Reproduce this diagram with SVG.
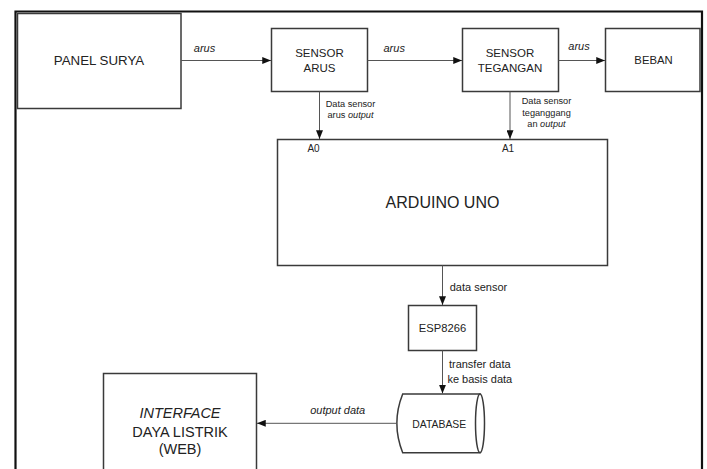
<svg xmlns="http://www.w3.org/2000/svg" width="707" height="469" viewBox="0 0 707 469">
<defs>
<marker id="ah" viewBox="0 0 10 8" refX="10" refY="4" markerWidth="9" markerHeight="7" markerUnits="userSpaceOnUse" orient="auto">
<path d="M0,0 L10,4 L0,8 z" fill="#111"/>
</marker>
<style>
.box{fill:#fff;stroke:#3a3a3a;stroke-width:1.5}
.frame{fill:none;stroke:#111;stroke-width:2.2}
.con{fill:none;stroke:#555;stroke-width:1}
text{font-family:"Liberation Sans",Arial,sans-serif;fill:#222;text-anchor:middle}
.it{font-style:italic}
.lbl{font-size:11px}
.small{font-size:9.2px}
</style>
</defs>
<rect width="707" height="469" fill="#fff"/>
<path class="frame" d="M15.5,469 V11.5 H702 V469"/>

<g id="panel-surya">
<rect class="box" x="17.5" y="13.5" width="163.5" height="95"/>
<text x="99" y="65" font-size="13.3">PANEL SURYA</text>
</g>
<g id="sensor-arus">
<rect class="box" x="271.5" y="28.5" width="96" height="63"/>
<text x="319.5" y="56.5" font-size="11.5">SENSOR</text>
<text x="319.5" y="71.5" font-size="11.5">ARUS</text>
</g>
<g id="sensor-tegangan">
<rect class="box" x="462.5" y="28.5" width="96" height="63"/>
<text x="510" y="56.5" font-size="11.5">SENSOR</text>
<text x="510" y="71.5" font-size="11.5">TEGANGAN</text>
</g>
<g id="beban">
<rect class="box" x="605.5" y="28.5" width="94.5" height="63"/>
<text x="653.5" y="64.3" font-size="11.3">BEBAN</text>
</g>
<g id="arduino-uno">
<rect class="box" x="277.5" y="139.5" width="330" height="126"/>
<text x="442.5" y="208" font-size="16">ARDUINO UNO</text>
<text x="313.5" y="151.7" font-size="10">A0</text>
<text x="508" y="151.7" font-size="10">A1</text>
</g>
<g id="esp8266">
<rect class="box" x="408.5" y="305.5" width="68" height="45"/>
<text x="442.5" y="331.7" font-size="11.2">ESP8266</text>
</g>
<g id="database">
<path class="box" d="M402.7,394 H480 V452.7 H402.7 Q391,423.3 402.7,394 Z"/>
<ellipse class="box" cx="480" cy="423.3" rx="4.5" ry="29.3"/>
<text x="439.3" y="428" font-size="10.4">DATABASE</text>
</g>
<g id="interface-web">
<path class="box" d="M103.5,469 V373.5 H256.5 V469"/>
<text x="180" y="418.3" font-size="14.5" class="it">INTERFACE</text>
<text x="180" y="437.3" font-size="14.5">DAYA LISTRIK</text>
<text x="180" y="454" font-size="14.5">(WEB)</text>
</g>

<g id="connectors">
<line class="con" x1="181" y1="60.5" x2="271" y2="60.5" marker-end="url(#ah)"/>
<line class="con" x1="367.5" y1="60.5" x2="462" y2="60.5" marker-end="url(#ah)"/>
<line class="con" x1="558.5" y1="60.5" x2="605" y2="60.5" marker-end="url(#ah)"/>
<line class="con" x1="319.5" y1="91.5" x2="319.5" y2="139" marker-end="url(#ah)"/>
<line class="con" x1="510" y1="91.5" x2="510" y2="139" marker-end="url(#ah)"/>
<line class="con" x1="442.5" y1="265.5" x2="442.5" y2="305" marker-end="url(#ah)"/>
<line class="con" x1="442.5" y1="350.5" x2="442.5" y2="393.5" marker-end="url(#ah)"/>
<line class="con" x1="397" y1="423.3" x2="257" y2="423.3" marker-end="url(#ah)"/>
<text class="lbl it" x="204.5" y="51.5" font-size="10.8">arus</text>
<text class="lbl it" x="394.2" y="51.5" font-size="10.8">arus</text>
<text class="lbl it" x="579" y="49.5" font-size="10.8">arus</text>
<text class="small" x="350.5" y="106.7">Data sensor</text>
<text class="small" x="350.5" y="118">arus <tspan font-style="italic">output</tspan></text>
<text class="small" x="546.5" y="104">Data sensor</text>
<text class="small" x="546.5" y="116">teganggang</text>
<text class="small" x="546.5" y="127">an <tspan font-style="italic">output</tspan></text>
<text class="lbl" x="478.5" y="290.7" font-size="11">data sensor</text>
<text class="lbl" x="479.8" y="368.3" font-size="11.3">transfer data</text>
<text class="lbl" x="479.8" y="382.7" font-size="11.3">ke basis data</text>
<text class="lbl it" x="337.7" y="414.3" font-size="11.4">output data</text>
</g>
</svg>
